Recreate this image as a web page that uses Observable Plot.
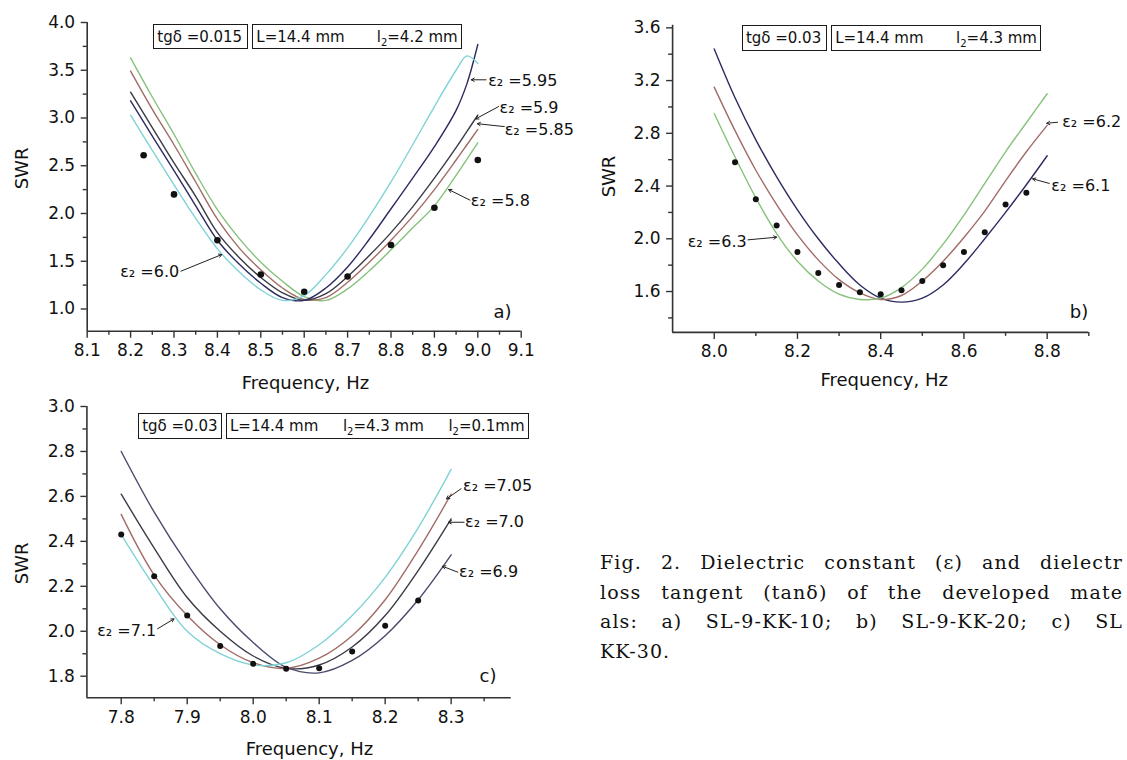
<!DOCTYPE html>
<html><head><meta charset="utf-8">
<script src="https://cdn.jsdelivr.net/npm/d3@7"></script>
<script src="https://cdn.jsdelivr.net/npm/@observablehq/plot@0.6"></script>
<style>
html,body{margin:0;padding:0;background:#fff;}
#fig{position:relative;width:1127px;height:760px;overflow:hidden;background:#fff;}
#fig svg{position:absolute;}
.box{position:absolute;box-sizing:border-box;border:1.5px solid #1a1a1a;font-family:"DejaVu Sans",sans-serif;font-size:15px;color:#111;display:flex;align-items:center;justify-content:space-between;padding:0 3px;white-space:nowrap;}
.box sub{font-size:10px;vertical-align:-4px;line-height:0;}
.cap{position:absolute;left:600px;top:548px;width:523px;font-family:"DejaVu Serif",serif;font-size:19px;letter-spacing:1.1px;line-height:29.6px;color:#111;}
.cap .j{text-align:justify;text-align-last:justify;white-space:nowrap;}
</style></head>
<body>
<div id="fig">
  <div class="box" style="left:153.3px;top:24px;width:95px;height:25.3px;"><span>tgδ =0.015</span></div>
  <div class="box" style="left:252.3px;top:24px;width:209.4px;height:25.3px;"><span>L=14.4 mm</span><span>l<sub>2</sub>=4.2 mm</span></div>
  <div class="box" style="left:741.9px;top:25px;width:85px;height:25.7px;"><span>tgδ =0.03</span></div>
  <div class="box" style="left:831.2px;top:25px;width:209.8px;height:25.7px;"><span>L=14.4 mm</span><span>l<sub>2</sub>=4.3 mm</span></div>
  <div class="box" style="left:138.2px;top:412.7px;width:84px;height:26.3px;"><span>tgδ =0.03</span></div>
  <div class="box" style="left:226px;top:412.7px;width:302.6px;height:26.3px;"><span>L=14.4 mm</span><span>l<sub>2</sub>=4.3 mm</span><span>l<sub>2</sub>=0.1mm</span></div>
  <div class="cap">
    <div class="j">Fig. 2. Dielectric constant (ε) and dielectr</div>
    <div class="j">loss tangent (tanδ) of the developed mate</div>
    <div class="j">als: a) SL-9-KK-10; b) SL-9-KK-20; c) SL</div>
    <div>KK-30.</div>
  </div>
</div>
<script>
// ---------- Panel a data ----------
const freqA = [8.20, 8.25, 8.30, 8.35, 8.40, 8.45, 8.50, 8.55, 8.60, 8.65, 8.70, 8.75, 8.80, 8.85, 8.90, 8.95, 8.975, 9.00];
const swrA_580 = [3.63, 3.22, 2.83, 2.42, 2.04, 1.74, 1.49, 1.29, 1.13, 1.09, 1.21, 1.40, 1.62, 1.85, 2.08, 2.40, 2.57, 2.74];
const swrA_585 = [3.49, 3.09, 2.72, 2.33, 1.94, 1.64, 1.41, 1.22, 1.10, 1.12, 1.28, 1.49, 1.72, 1.97, 2.25, 2.56, 2.72, 2.88];
const swrA_590 = [3.27, 2.90, 2.53, 2.18, 1.80, 1.54, 1.33, 1.17, 1.09, 1.16, 1.34, 1.56, 1.80, 2.07, 2.37, 2.69, 2.86, 3.03];
const swrA_595 = [3.18, 2.81, 2.45, 2.08, 1.72, 1.47, 1.27, 1.12, 1.09, 1.22, 1.44, 1.73, 2.05, 2.37, 2.70, 3.08, 3.36, 3.77];
const swrA_600 = [3.03, 2.66, 2.30, 1.95, 1.63, 1.39, 1.20, 1.09, 1.14, 1.36, 1.64, 1.97, 2.33, 2.72, 3.12, 3.50, 3.65, 3.57];
const measA_f = [8.23, 8.30, 8.40, 8.50, 8.60, 8.70, 8.80, 8.90, 9.00];
const measA_swr = [2.61, 2.20, 1.72, 1.36, 1.18, 1.34, 1.67, 2.06, 2.56];
const labA_text = ["ε₂ =5.95", "ε₂ =5.9", "ε₂ =5.85", "ε₂ =5.8", "ε₂ =6.0"];
const labA_f = [9.024, 9.050, 9.062, 8.984, 8.312];
const labA_swr = [3.39, 3.11, 2.88, 2.13, 1.385];
const arrA_f1 = [9.019, 9.048, 9.061, 8.982, 8.316];
const arrA_s1 = [3.40, 3.12, 2.91, 2.14, 1.396];
const arrA_f2 = [8.985, 8.995, 8.999, 8.933, 8.41];
const arrA_s2 = [3.40, 2.99, 2.94, 2.25, 1.57];
const ticksA_x = [8.1, 8.2, 8.3, 8.4, 8.5, 8.6, 8.7, 8.8, 8.9, 9.0, 9.1];
const minorA_x = [8.15, 8.25, 8.35, 8.45, 8.55, 8.65, 8.75, 8.85, 8.95, 9.05];
const ticksA_y = [1.0, 1.5, 2.0, 2.5, 3.0, 3.5, 4.0];
const minorA_y = [1.25, 1.75, 2.25, 2.75, 3.25, 3.75];

// ---------- Panel b data ----------
const freqB = [8.00, 8.05, 8.10, 8.15, 8.20, 8.25, 8.30, 8.35, 8.40, 8.45, 8.50, 8.55, 8.60, 8.65, 8.70, 8.75, 8.80];
const swrB_61 = [3.44, 3.07, 2.75, 2.47, 2.22, 2.00, 1.81, 1.65, 1.55, 1.52, 1.55, 1.65, 1.81, 2.00, 2.20, 2.41, 2.63];
const swrB_62 = [3.15, 2.82, 2.52, 2.26, 2.03, 1.84, 1.69, 1.59, 1.54, 1.57, 1.68, 1.83, 2.01, 2.21, 2.44, 2.66, 2.86];
const swrB_63 = [2.95, 2.62, 2.31, 2.04, 1.83, 1.68, 1.58, 1.54, 1.55, 1.63, 1.77, 1.96, 2.18, 2.42, 2.66, 2.88, 3.10];
const measB_f = [8.05, 8.10, 8.15, 8.20, 8.25, 8.30, 8.35, 8.40, 8.45, 8.50, 8.55, 8.60, 8.65, 8.70, 8.75];
const measB_swr = [2.58, 2.30, 2.10, 1.90, 1.74, 1.65, 1.595, 1.58, 1.61, 1.68, 1.80, 1.90, 2.05, 2.26, 2.35];
const labB_text = ["ε₂ =6.2", "ε₂ =6.1", "ε₂ =6.3"];
const labB_f = [8.836, 8.810, 8.078];
const labB_swr = [2.884, 2.404, 1.98];
const arrB_f1 = [8.825, 8.805, 8.081];
const arrB_s1 = [2.884, 2.42, 1.992];
const arrB_f2 = [8.799, 8.765, 8.150];
const arrB_s2 = [2.876, 2.455, 2.012];
const ticksB_x = [8.0, 8.2, 8.4, 8.6, 8.8];
const minorB_x = [8.1, 8.3, 8.5, 8.7, 8.9];
const ticksB_y = [1.6, 2.0, 2.4, 2.8, 3.2, 3.6];
const minorB_y = [1.4, 1.8, 2.2, 2.6, 3.0, 3.4];

// ---------- Panel c data ----------
const freqC = [7.80, 7.85, 7.90, 7.95, 8.00, 8.05, 8.10, 8.15, 8.20, 8.25, 8.30];
const swrC_690 = [2.80, 2.53, 2.30, 2.10, 1.95, 1.84, 1.815, 1.87, 1.98, 2.14, 2.34];
const swrC_700 = [2.61, 2.37, 2.15, 2.00, 1.89, 1.835, 1.85, 1.93, 2.07, 2.27, 2.50];
const swrC_705 = [2.52, 2.25, 2.07, 1.94, 1.86, 1.835, 1.88, 1.98, 2.14, 2.36, 2.61];
const swrC_710 = [2.43, 2.20, 2.00, 1.90, 1.85, 1.86, 1.94, 2.07, 2.24, 2.46, 2.72];
const measC_f = [7.80, 7.85, 7.90, 7.95, 8.00, 8.05, 8.10, 8.15, 8.20, 8.25];
const measC_swr = [2.43, 2.245, 2.07, 1.935, 1.855, 1.833, 1.835, 1.91, 2.025, 2.137];
const labC_text = ["ε₂ =7.05", "ε₂ =7.0", "ε₂ =6.9", "ε₂ =7.1"];
const labC_f = [8.318, 8.321, 8.312, 7.853];
const labC_swr = [2.648, 2.485, 2.263, 2.003];
const arrC_f1 = [8.315, 8.3196, 8.310, 7.855];
const arrC_s1 = [2.634, 2.485, 2.263, 2.011];
const arrC_f2 = [8.293, 8.296, 8.287, 7.880];
const arrC_s2 = [2.589, 2.485, 2.289, 2.055];
const ticksC_x = [7.8, 7.9, 8.0, 8.1, 8.2, 8.3];
const minorC_x = [7.85, 7.95, 8.05, 8.15, 8.25, 8.35];
const ticksC_y = [1.8, 2.0, 2.2, 2.4, 2.6, 2.8, 3.0];
const minorC_y = [1.9, 2.1, 2.3, 2.5, 2.7, 2.9];

const GREEN = "#86c27b", BROWN = "#a26c66", SLATE = "#3b3b48", NAVY = "#2b2b62", CYAN = "#80d2d6";
const AX = "#333";

function build(cfg) {
  const curveMarks = cfg.curves.map(c =>
    Plot.line(cfg.freq.map((f, i) => ({f, s: c.swr[i]})), {x: "f", y: "s", stroke: c.color, strokeWidth: 1.4, curve: "catmull-rom"}));
  const dots = cfg.measF.map((f, i) => ({f, s: cfg.measS[i]}));
  const labels = cfg.labT.map((t, i) => ({t, f: cfg.labF[i], s: cfg.labS[i]}));
  const arrows = cfg.a1f.map((f, i) => ({x1: f, y1: cfg.a1s[i], x2: cfg.a2f[i], y2: cfg.a2s[i]}));
  const svg = Plot.plot({
    width: cfg.width, height: cfg.height,
    marginLeft: cfg.m[0], marginRight: cfg.m[1], marginTop: cfg.m[2], marginBottom: cfg.m[3],
    x: {domain: cfg.xDomain, label: null},
    y: {domain: cfg.yDomain, label: null},
    style: {fontFamily: "'DejaVu Sans', sans-serif", fontSize: "17px", color: "#111", background: "transparent", overflow: "visible"},
    marks: [
      Plot.axisX(cfg.xMinor, {tickSize: 4, tickFormat: () => "", label: null, stroke: AX, strokeWidth: 1.4}),
      Plot.axisX(cfg.xMajor, {tickSize: 7, tickPadding: 6, tickFormat: d => d.toFixed(1), label: null, stroke: AX, strokeWidth: 1.4, fill: "#111", fontSize: 17}),
      Plot.axisY(cfg.yMinor, {tickSize: 4, tickFormat: () => "", label: null, stroke: AX, strokeWidth: 1.4}),
      Plot.axisY(cfg.yMajor, {tickSize: 6, tickPadding: 6, tickFormat: d => d.toFixed(1), label: null, stroke: AX, strokeWidth: 1.4, fill: "#111", fontSize: 17}),
      Plot.ruleY([cfg.yDomain[0]], {stroke: AX, strokeWidth: 1.6}),
      Plot.ruleX([cfg.xDomain[0]], {stroke: AX, strokeWidth: 1.6}),
      ...curveMarks,
      Plot.dot(dots, {x: "f", y: "s", r: cfg.r, fill: "#111", stroke: "none"}),
      Plot.arrow(arrows, {x1: "x1", y1: "y1", x2: "x2", y2: "y2", stroke: "#222", strokeWidth: 1, headLength: 5}),
      Plot.text(labels.filter((d, i) => cfg.labA[i] === "start"), {x: "f", y: "s", text: "t", textAnchor: "start", fontSize: 16, fill: "#111"}),
      Plot.text(labels.filter((d, i) => cfg.labA[i] === "end"), {x: "f", y: "s", text: "t", textAnchor: "end", fontSize: 16, fill: "#111"}),
      Plot.text(["Frequency, Hz"], {text: d => d, frameAnchor: "bottom", textAnchor: "middle", lineAnchor: "middle", dx: cfg.xl[0], dy: cfg.xl[1], fontSize: 18, fill: "#111"}),
      Plot.text(["SWR"], {text: d => d, frameAnchor: "left", textAnchor: "middle", lineAnchor: "middle", rotate: -90, dx: cfg.yl[0], dy: cfg.yl[1], fontSize: 18, fill: "#111"}),
      Plot.text([cfg.tag], {text: d => d, frameAnchor: "bottom-right", textAnchor: "middle", lineAnchor: "middle", dx: cfg.tg[0], dy: cfg.tg[1], fontSize: 18, fill: "#111"})
    ]
  });
  svg.style.left = cfg.left + "px";
  svg.style.top = cfg.top + "px";
  document.getElementById("fig").appendChild(svg);
}

build({
  left: 0, top: 0, width: 560, height: 400, m: [86.7, 39.3, 22, 69.3],
  xDomain: [8.1, 9.1], yDomain: [0.7675, 4.0],
  xMajor: ticksA_x, xMinor: minorA_x, yMajor: ticksA_y, yMinor: minorA_y,
  freq: freqA,
  curves: [
    {color: GREEN, swr: swrA_580}, {color: BROWN, swr: swrA_585}, {color: SLATE, swr: swrA_590},
    {color: NAVY, swr: swrA_595}, {color: CYAN, swr: swrA_600}],
  measF: measA_f, measS: measA_swr, r: 3.3,
  labT: labA_text, labF: labA_f, labS: labA_swr, labA: ["start", "start", "start", "start", "end"],
  a1f: arrA_f1, a1s: arrA_s1, a2f: arrA_f2, a2s: arrA_s2,
  xl: [1.3, 52.3], yl: [-65.3, -8.4], tag: "a)", tg: [-18.7, -18.7]
});

build({
  left: 560, top: 0, width: 567, height: 400, m: [112.1, 38.7, 24.7, 68.1],
  xDomain: [7.9, 8.9], yDomain: [1.29, 3.62],
  xMajor: ticksB_x, xMinor: minorB_x, yMajor: ticksB_y, yMinor: minorB_y,
  freq: freqB,
  curves: [{color: NAVY, swr: swrB_61}, {color: BROWN, swr: swrB_62}, {color: GREEN, swr: swrB_63}],
  measF: measB_f, measS: measB_swr, r: 3.0,
  labT: labB_text, labF: labB_f, labS: labB_swr, labA: ["start", "start", "end"],
  a1f: arrB_f1, a1s: arrB_s1, a2f: arrB_f2, a2s: arrB_s2,
  xl: [3.5, 48], yl: [-63.3, -2.3], tag: "b)", tg: [-9.8, -20]
});

build({
  left: 0, top: 390, width: 560, height: 370, m: [86.4, 49.3, 16, 62.7],
  xDomain: [7.748, 8.391], yDomain: [1.704, 3.0],
  xMajor: ticksC_x, xMinor: minorC_x, yMajor: ticksC_y, yMinor: minorC_y,
  freq: freqC,
  curves: [{color: "#4a4a6c", swr: swrC_690}, {color: SLATE, swr: swrC_700}, {color: BROWN, swr: swrC_705}, {color: CYAN, swr: swrC_710}],
  measF: measC_f, measS: measC_swr, r: 3.0,
  labT: labC_text, labF: labC_f, labS: labC_swr, labA: ["start", "start", "start", "end"],
  a1f: arrC_f1, a1s: arrC_s1, a2f: arrC_f2, a2s: arrC_s2,
  xl: [10.4, 51.7], yl: [-65, 11.3], tag: "c)", tg: [-23.2, -21.3]
});
</script>
</body></html>
